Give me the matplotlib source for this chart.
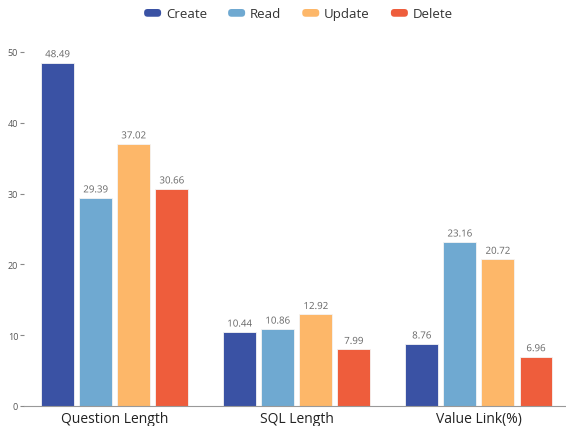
import matplotlib.pyplot as plt
import matplotlib.patheffects as pe
from matplotlib.legend_handler import HandlerPatch
from matplotlib.patches import FancyBboxPatch
import numpy as np

categories = ["Question Length", "SQL Length", "Value Link(%)"]
series = ["Create", "Read", "Update", "Delete"]
create = [48.49, 10.44, 8.76]
read = [29.39, 10.86, 23.16]
update = [37.02, 12.92, 20.72]
delete = [30.66, 7.99, 6.96]
colors = ["#3a52a4", "#6fa9d1", "#fdb769", "#ee5d3c"]

plt.rcParams['font.family'] = ['Open Sans', 'DejaVu Sans']


class RoundHandler(HandlerPatch):
    # rounded legend keys
    def create_artists(self, legend, orig_handle, xdescent, ydescent,
                       width, height, fontsize, trans):
        p = FancyBboxPatch((-xdescent + 1, -ydescent + 1), width - 2, height - 2,
                           boxstyle="round,pad=0,rounding_size=2.5",
                           facecolor=orig_handle.get_facecolor(),
                           edgecolor="none", transform=trans)
        return [p]


fig = plt.figure(figsize=(5.66, 4.27), dpi=100)
ax = fig.add_axes([0.042, 0.047, 0.965, 0.829])

x = np.arange(len(categories))
width = 0.181
step = 0.209
values = [create, read, update, delete]
handles = []
for i, (name, vals) in enumerate(zip(series, values)):
    pos = x + (i - 1.5) * step
    bars = ax.bar(pos, vals, width, color=colors[i], label=name,
                  edgecolor="#f4f4f4", linewidth=0.6)
    handles.append(bars[0])
    for b, v in zip(bars, vals):
        ax.text(b.get_x() + b.get_width() / 2, v + 0.35, f"{v:.2f}",
                ha="center", va="bottom", fontsize=7, color="#666666",
                clip_on=False,
                path_effects=[pe.withStroke(linewidth=1.5, foreground="white")])

ax.set_xlim(-0.5, 2.5)
ax.set_ylim(0, 50)
ax.set_yticks(np.arange(0, 51, 10))
ax.set_xticks(x)
ax.set_xticklabels(categories, fontsize=10, color="#222222")
ax.tick_params(axis="x", length=0, pad=4)
ax.tick_params(axis="y", length=3, width=0.8, color="#888888",
               labelsize=6.5, labelcolor="#555555", pad=1)
for s in ["top", "right", "left"]:
    ax.spines[s].set_visible(False)
ax.spines["bottom"].set_color("#999999")

fig.legend(handles, series, loc="center", bbox_to_anchor=(0.526, 0.965), ncol=4,
           frameon=False, fontsize=9.5, handlelength=1.5, handleheight=0.85,
           columnspacing=1.5, handletextpad=0.25, labelcolor="#333333",
           handler_map={h: RoundHandler() for h in handles})

fig.savefig("out.png", dpi=100)
